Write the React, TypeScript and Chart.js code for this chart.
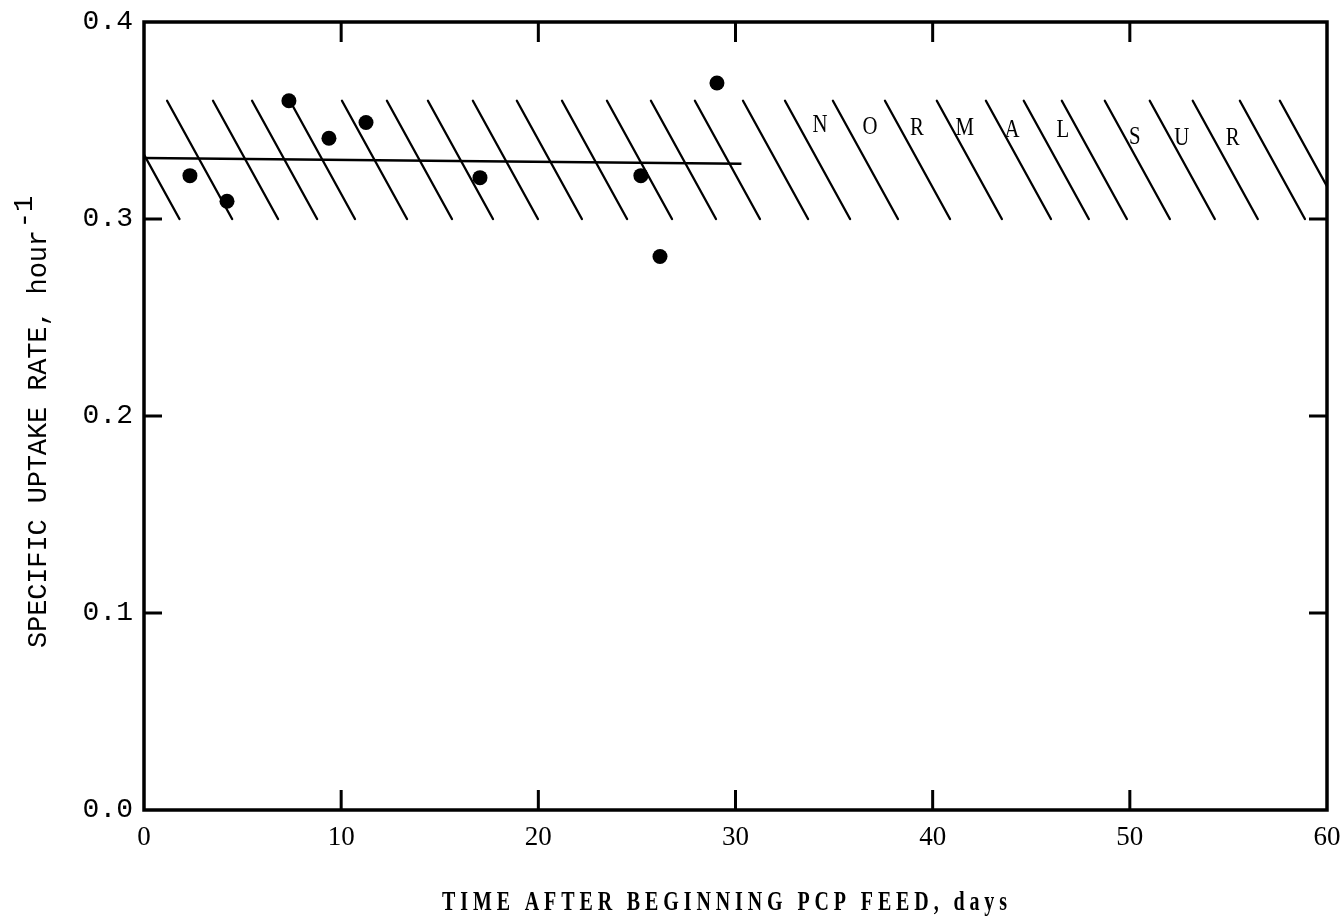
import React, { useEffect, useRef } from "react";
import { Chart, registerables } from "chart.js";

Chart.register(...registerables);

// Measured points
const DAYS = [2.33, 4.21, 7.35, 9.38, 11.26, 17.04, 25.2, 26.17, 29.06];
const RATES = [0.322, 0.309, 0.360, 0.341, 0.349, 0.321, 0.322, 0.281, 0.369];

// Mean line
const FIT_DAYS = [0, 30.3];
const FIT_RATES = [0.331, 0.328];

// Hatched "normal" band
const BAND_LOW = 0.30;
const BAND_HIGH = 0.36;
const HATCH_TOPS = [
  -1.5, 1.17, 3.5, 5.48, 7.4, 10.04, 12.32, 14.4, 16.68, 18.91, 21.2, 23.48, 25.71,
  27.94, 30.38, 32.51, 34.94, 37.58, 40.21, 42.7, 44.62, 46.55, 48.73, 51.01, 53.19,
  55.58, 57.61,
];
const HATCH_SLANT = 3.3; // days shift from band top to band bottom

const BAND_LETTERS = ["N", "O", "R", "M", "A", "L", "S", "U", "R"];
const BAND_LETTER_DAYS = [34.28, 36.82, 39.2, 41.63, 44.02, 46.6, 50.25, 52.64, 55.22];
const BAND_LETTER_RATES = [0.3477, 0.3467, 0.3462, 0.3462, 0.3452, 0.3452, 0.3416, 0.3411, 0.3411];

const X_TICKS = [0, 10, 20, 30, 40, 50, 60];
const Y_TICKS = [0, 0.1, 0.2, 0.3, 0.4];
const X_TITLE = "TIME AFTER BEGINNING PCP FEED, days";
const Y_TITLE = "SPECIFIC UPTAKE RATE, hour";
const Y_TITLE_SUP = "-1";

const decorPlugin = {
  id: "decor",
  beforeDatasetsDraw(chart: any) {
    const { ctx, chartArea: a, scales } = chart;
    const xs = scales.x;
    const ys = scales.y;
    ctx.save();
    ctx.beginPath();
    ctx.rect(a.left, a.top, a.right - a.left, a.bottom - a.top);
    ctx.clip();
    ctx.strokeStyle = "#000";
    ctx.lineWidth = 2.3;
    ctx.lineCap = "round";
    const yt = ys.getPixelForValue(BAND_HIGH);
    const yb = ys.getPixelForValue(BAND_LOW);
    HATCH_TOPS.forEach((t) => {
      ctx.beginPath();
      ctx.moveTo(xs.getPixelForValue(t), yt);
      ctx.lineTo(xs.getPixelForValue(t + HATCH_SLANT), yb);
      ctx.stroke();
    });
    ctx.restore();

    ctx.save();
    ctx.fillStyle = "#000";
    ctx.font = "26px 'Liberation Serif'";
    ctx.textAlign = "center";
    ctx.textBaseline = "middle";
    BAND_LETTERS.forEach((ch, i) => {
      const px = xs.getPixelForValue(BAND_LETTER_DAYS[i]);
      const py = ys.getPixelForValue(BAND_LETTER_RATES[i]);
      ctx.save();
      ctx.translate(px, py);
      ctx.scale(0.8, 1);
      ctx.fillText(ch, 0, 0);
      ctx.restore();
    });
    ctx.restore();
  },
  afterDraw(chart: any) {
    const { ctx, chartArea: a, scales } = chart;
    const xs = scales.x;
    const ys = scales.y;
    ctx.save();
    ctx.strokeStyle = "#000";
    ctx.lineWidth = 3.5;
    ctx.lineCap = "butt";
    ctx.strokeRect(a.left, a.top, a.right - a.left, a.bottom - a.top);
    ctx.lineWidth = 3;
    const tl = 20;
    X_TICKS.forEach((v) => {
      if (v === X_TICKS[0] || v === X_TICKS[X_TICKS.length - 1]) return;
      const px = xs.getPixelForValue(v);
      ctx.beginPath();
      ctx.moveTo(px, a.bottom);
      ctx.lineTo(px, a.bottom - tl);
      ctx.moveTo(px, a.top);
      ctx.lineTo(px, a.top + tl);
      ctx.stroke();
    });
    Y_TICKS.forEach((v) => {
      if (v === Y_TICKS[0] || v === Y_TICKS[Y_TICKS.length - 1]) return;
      const py = ys.getPixelForValue(v);
      ctx.beginPath();
      ctx.moveTo(a.left, py);
      ctx.lineTo(a.left + 18, py);
      ctx.moveTo(a.right, py);
      ctx.lineTo(a.right - 18, py);
      ctx.stroke();
    });
    ctx.restore();

    // Y title (rotated) with superscript
    ctx.save();
    ctx.fillStyle = "#000";
    ctx.translate(46, 648);
    ctx.rotate(-Math.PI / 2);
    ctx.font = "27px 'Liberation Mono'";
    ctx.textAlign = "left";
    ctx.textBaseline = "alphabetic";
    const w0 = ctx.measureText(Y_TITLE).width;
    const sp = (418 - w0) / (Y_TITLE.length - 1);
    (ctx as any).letterSpacing = sp + "px";
    ctx.fillText(Y_TITLE, 0, 0);
    const w1 = ctx.measureText(Y_TITLE).width;
    (ctx as any).letterSpacing = "0px";
    ctx.fillText(Y_TITLE_SUP, w1 + 2, -14);
    ctx.restore();

    // X title (condensed, letter-spaced)
    ctx.save();
    ctx.fillStyle = "#000";
    ctx.font = "bold 27px 'Liberation Serif'";
    ctx.textAlign = "left";
    ctx.textBaseline = "alphabetic";
    const sx = 0.74;
    const xw0 = ctx.measureText(X_TITLE).width;
    const xsp = (565 / sx - xw0) / (X_TITLE.length - 1);
    ctx.translate(442, 910);
    ctx.scale(sx, 1);
    (ctx as any).letterSpacing = xsp + "px";
    ctx.fillText(X_TITLE, 0, 0);
    ctx.restore();
  },
};

export default function App() {
  const ref = useRef<HTMLCanvasElement | null>(null);
  useEffect(() => {
    if (!ref.current) return;
    const chart = new Chart(ref.current, {
      type: "scatter",
      data: {
        datasets: [
          {
            label: "fit",
            data: FIT_DAYS.map((d, i) => ({ x: d, y: FIT_RATES[i] })),
            showLine: true,
            borderColor: "#000",
            borderWidth: 2.5,
            pointRadius: 0,
            fill: false,
          },
          {
            label: "rate",
            data: DAYS.map((d, i) => ({ x: d, y: RATES[i] })),
            backgroundColor: "#000",
            borderColor: "#000",
            borderWidth: 0,
            pointRadius: 7.5,
            pointHoverRadius: 7.5,
          },
        ],
      },
      options: {
        responsive: false,
        animation: false,
        devicePixelRatio: 1,
        layout: { padding: { top: 22, right: 15, left: 0, bottom: 0 } },
        plugins: { legend: { display: false }, tooltip: { enabled: false } },
        scales: {
          x: {
            type: "linear",
            min: 0,
            max: 60,
            afterBuildTicks: (s: any) => {
              s.ticks = X_TICKS.map((v) => ({ value: v }));
            },
            afterFit: (s: any) => {
              s.height = 114;
              s.paddingLeft = 0;
              s.paddingRight = 0;
            },
            grid: { display: false, drawTicks: false },
            border: { display: false },
            ticks: {
              padding: 12,
              color: "#000",
              font: { family: "'Liberation Serif'", size: 27 },
              callback: (v: any) => String(v),
              maxRotation: 0,
              autoSkip: false,
            },
          },
          y: {
            type: "linear",
            min: 0,
            max: 0.4,
            afterBuildTicks: (s: any) => {
              s.ticks = Y_TICKS.map((v) => ({ value: v }));
            },
            afterFit: (s: any) => {
              s.width = 144;
              s.paddingTop = 0;
              s.paddingBottom = 0;
            },
            grid: { display: false, drawTicks: false },
            border: { display: false },
            ticks: {
              padding: 11,
              color: "#000",
              font: { family: "'Liberation Mono'", size: 28 },
              callback: (v: any) => Number(v).toFixed(1),
              autoSkip: false,
            },
          },
        },
      },
      plugins: [decorPlugin],
    });
    return () => chart.destroy();
  }, []);
  return (
    <div style={{ position: "absolute", left: 0, top: 0, width: 1342, height: 924, background: "#fff" }}>
      <canvas ref={ref} width={1342} height={924} style={{ display: "block" }} />
    </div>
  );
}
